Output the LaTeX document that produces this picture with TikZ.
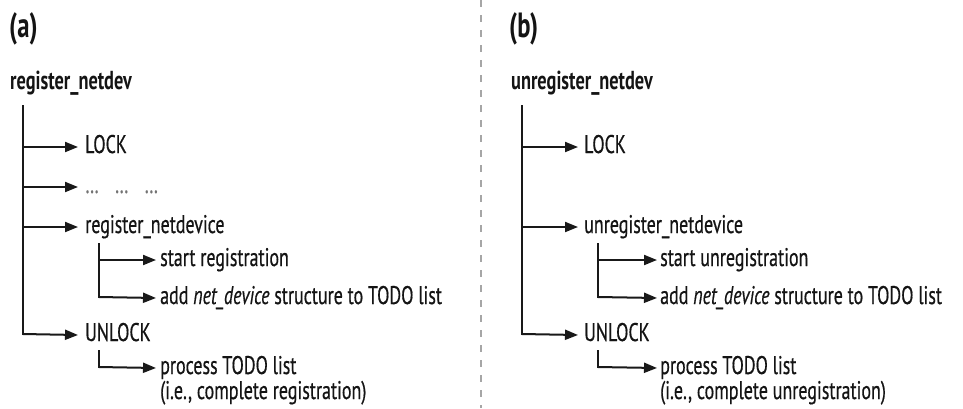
\documentclass[tikz,border=0pt]{standalone}
\usepackage{fontspec}
\setmainfont{PT Sans}[FakeStretch=0.705,UprightFeatures={FakeBold=0.5},ItalicFeatures={FakeBold=0.5}]
\usetikzlibrary{arrows.meta}
\begin{document}
\begin{tikzpicture}[x=1pt,y=-1pt,
  txt/.style={anchor=base west,inner sep=0pt,font=\fontsize{25.5}{27}\selectfont,text=black!92},
  head/.style={anchor=base west,inner sep=0pt,font=\fontsize{26}{27}\selectfont\bfseries,text=black!92},
  tag/.style={anchor=base west,inner sep=0pt,font=\fontsize{35}{36}\selectfont\bfseries,text=black!92},
  trunk/.style={line width=2pt,black!90},
  arr/.style={line width=2pt,black!90,-{Triangle[length=13pt,width=10pt]}},
  sep/.style={line width=2pt,black!35,dash pattern=on 7pt off 8pt}]
\useasboundingbox (0,0) rectangle (963,408);
\fill[white] (0,0) rectangle (963,408);

% separator
\coordinate (sepT) at (481,0);
\coordinate (sepB) at (481,408);
\draw[sep] (sepT) -- (sepB);

% ---------------- panel (a) ----------------
\node[tag] (atag) at (9,37) {(a)};
\node[head] (ahead) at (10,89) {register\_netdev};
\node[txt] (alock) at (85,153) {LOCK};
\node[txt,text=black!55] (adots) at (85,193) {\ldots\hspace{16pt}\ldots\hspace{16pt}\ldots};
\node[txt] (areg) at (85,233) {register\_netdevice};
\node[txt] (astart) at (160,266) {start registration};
\node[txt] (aadd) at (160,304) {add \textit{net\_device} structure to TODO list};
\node[txt] (aunlock) at (85,341) {UNLOCK};
\node[txt] (aproc) at (160,374) {process TODO list};
\node[txt] (aproc2) at (160,399) {(i.e., complete registration)};

\coordinate (aT) at (23,105);
\coordinate (a1) at (23,147);
\coordinate (a2) at (23,187);
\coordinate (a3) at (23,227);
\coordinate (a4) at (23,335);
\coordinate (aS) at (99,243);
\coordinate (aS1) at (99,260);
\coordinate (aS2) at (99,298);
\coordinate (aU) at (99,350);
\coordinate (aU1) at (99,368);

\draw[trunk] (aT) -- (a4);
\draw[arr] (a1) -- ([xshift=-7pt]alock.base west |- a1);
\draw[arr] (a2) -- ([xshift=-7pt]adots.base west |- a2);
\draw[arr] (a3) -- ([xshift=-7pt]areg.base west |- a3);
\draw[arr] ([yshift=1pt]a4) -- ([xshift=-7pt]aunlock.base west |- a4);
\draw[trunk] (aS) -- (aS2);
\draw[arr] (aS1) -- ([xshift=-4pt]astart.base west |- aS1);
\draw[arr] ([yshift=1pt]aS2) -- ([xshift=-4pt]aadd.base west |- aS2);
\draw[trunk] (aU) -- (aU1);
\draw[arr] ([yshift=1pt]aU1) -- ([xshift=-4pt]aproc.base west |- aU1);

% ---------------- panel (b) ----------------
\node[tag] (btag) at (509,37) {(b)};
\node[head] (bhead) at (511,89) {unregister\_netdev};
\node[txt] (block) at (584,153) {LOCK};
\node[txt] (breg) at (584,233) {unregister\_netdevice};
\node[txt] (bstart) at (660,266) {start unregistration};
\node[txt] (badd) at (660,304) {add \textit{net\_device} structure to TODO list};
\node[txt] (bunlock) at (584,341) {UNLOCK};
\node[txt] (bproc) at (660,374) {process TODO list};
\node[txt] (bproc2) at (660,399) {(i.e., complete unregistration)};

\coordinate (bT) at (522,105);
\coordinate (b1) at (522,147);
\coordinate (b3) at (522,227);
\coordinate (b4) at (522,335);
\coordinate (bS) at (598,243);
\coordinate (bS1) at (598,260);
\coordinate (bS2) at (598,298);
\coordinate (bU) at (598,350);
\coordinate (bU1) at (598,368);

\draw[trunk] (bT) -- (b4);
\draw[arr] (b1) -- ([xshift=-6pt]block.base west |- b1);
\draw[arr] (b3) -- ([xshift=-6pt]breg.base west |- b3);
\draw[arr] ([yshift=1pt]b4) -- ([xshift=-6pt]bunlock.base west |- b4);
\draw[trunk] (bS) -- (bS2);
\draw[arr] (bS1) -- ([xshift=-3pt]bstart.base west |- bS1);
\draw[arr] ([yshift=1pt]bS2) -- ([xshift=-3pt]badd.base west |- bS2);
\draw[trunk] (bU) -- (bU1);
\draw[arr] ([yshift=1pt]bU1) -- ([xshift=-3pt]bproc.base west |- bU1);
\end{tikzpicture}
\end{document}
